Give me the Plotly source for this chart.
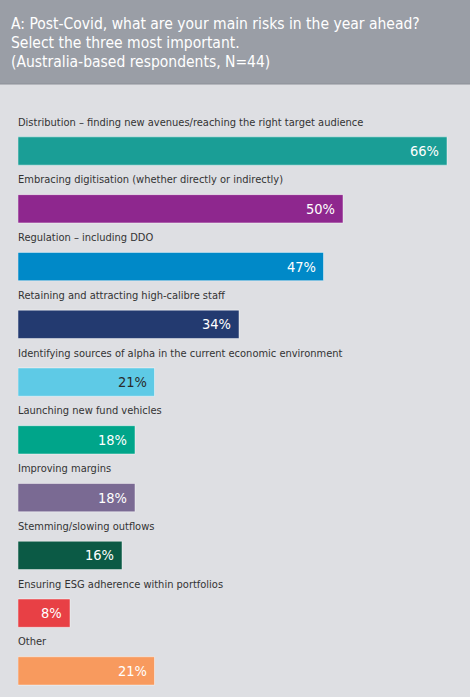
import plotly.graph_objects as go

categories = [
    "Distribution – finding new avenues/reaching the right target audience",
    "Embracing digitisation (whether directly or indirectly)",
    "Regulation – including DDO",
    "Retaining and attracting high-calibre staff",
    "Identifying sources of alpha in the current economic environment",
    "Launching new fund vehicles",
    "Improving margins",
    "Stemming/slowing outflows",
    "Ensuring ESG adherence within portfolios",
    "Other",
]
values = [66, 50, 47, 34, 21, 18, 18, 16, 8, 21]
bar_colors = ["#1a9e96", "#8e278e", "#0089c8", "#233a70", "#5ecae6",
              "#00a58a", "#7a6a93", "#0b5a45", "#e84045", "#f89a5e"]
value_text_colors = ["#ffffff", "#ffffff", "#ffffff", "#ffffff", "#2a2a2a",
                     "#ffffff", "#ffffff", "#ffffff", "#ffffff", "#ffffff"]
title_lines = [
    "A: Post-Covid, what are your main risks in the year ahead?",
    "Select the three most important.",
    "(Australia-based respondents, N=44)",
]

FONT = "DejaVu Sans Condensed, Liberation Sans Narrow, Roboto, sans-serif"
BG = "#dedfe3"
HEADER = "#9a9ea6"

W, H = 470, 697
ML, MR, MT, MB = 18, 10, 100, 7
plot_w = W - ML - MR
plot_h = H - MT - MB


def px_x(p):
    return (p - ML) / plot_w


def px_y(p):
    return 1 + (MT - p) / plot_h


fig = go.Figure()
fig.add_trace(go.Bar(
    y=categories, x=values, orientation="h",
    marker=dict(color=bar_colors, line=dict(color="rgba(255,255,255,0.45)", width=1)),
    width=0.49, hoverinfo="skip",
))

annotations = []
for cat, val, tc in zip(categories, values, value_text_colors):
    annotations.append(dict(
        x=0, y=cat, xref="x", yref="y", text=cat, showarrow=False,
        xanchor="left", yanchor="middle", xshift=-2, yshift=29,
        font=dict(family=FONT, size=11, color="#333333"),
    ))
    annotations.append(dict(
        x=val, y=cat, xref="x", yref="y", text=f"{val}%", showarrow=False,
        xanchor="right", yanchor="middle", xshift=-6, yshift=0,
        font=dict(family=FONT, size=14.5, color=tc),
    ))

for i, line in enumerate(title_lines):
    annotations.append(dict(
        x=px_x(9), y=px_y(24 + i * 19), xref="paper", yref="paper",
        text=line, showarrow=False, xanchor="left", yanchor="middle",
        font=dict(family=FONT, size=15.5, color="#ffffff"),
    ))

fig.update_layout(
    width=W, height=H,
    margin=dict(l=ML, r=MR, t=MT, b=MB),
    paper_bgcolor=BG, plot_bgcolor=BG,
    showlegend=False,
    xaxis=dict(range=[0, plot_w / 6.5], visible=False, fixedrange=True),
    yaxis=dict(type="category", range=[9.33, -0.883], visible=False, fixedrange=True),
    annotations=annotations,
    shapes=[
        dict(type="rect", xref="paper", yref="paper", layer="below",
             x0=px_x(0), x1=px_x(W), y0=px_y(84), y1=px_y(0),
             fillcolor=HEADER, line=dict(width=0)),
        dict(type="line", xref="paper", yref="paper",
             x0=px_x(0), x1=px_x(W), y0=px_y(84), y1=px_y(84),
             line=dict(color="#8c9098", width=1)),
    ],
)

fig.write_html("out.html", config={"displayModeBar": False})
